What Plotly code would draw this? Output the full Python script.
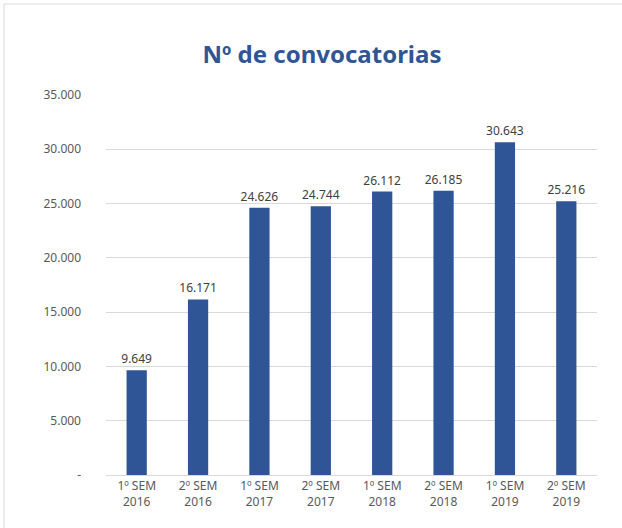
import plotly.graph_objects as go

categories = ["1º SEM<br>2016", "2º SEM<br>2016", "1º SEM<br>2017", "2º SEM<br>2017",
              "1º SEM<br>2018", "2º SEM<br>2018", "1º SEM<br>2019", "2º SEM<br>2019"]
values = [9649, 16171, 24626, 24744, 26112, 26185, 30643, 25216]
tick_vals = [0, 5000, 10000, 15000, 20000, 25000, 30000, 35000]
tick_text = ["-", "5.000", "10.000", "15.000", "20.000", "25.000", "30.000", "35.000"]
title_text = "Nº de convocatorias"

W, H = 622, 528
L, R, T, B = 106, 25, 95, 53
pw, ph = W - L - R, H - T - B
FONT = "Noto Sans"

fig = go.Figure(go.Bar(
    x=categories, y=values,
    marker=dict(color="#2F5597", line=dict(width=0)),
    texttemplate="%{y:,}", textposition="outside", constraintext="none",
    textfont=dict(color="#404040", size=12, family=FONT),
    cliponaxis=False,
))

def px_x(p):
    return (p - L) / pw

def px_y(p):
    return 1 - (p - T) / ph

fig.update_layout(
    width=W, height=H,
    margin=dict(l=L, r=R, t=T, b=B, autoexpand=False),
    paper_bgcolor="white", plot_bgcolor="white",
    separators=",.",
    bargap=0.67,
    showlegend=False,
    title=dict(text="<b>" + title_text + "</b>", x=px_x(322), xanchor="center",
               xref="paper", y=1 - 55 / H, yanchor="middle",
               font=dict(family=FONT, size=24, color="#2F5597")),
    font=dict(family=FONT, color="#595959", size=12),
    xaxis=dict(showgrid=False, showline=True, linecolor="#D9D9D9", linewidth=1,
               ticks="", automargin=False, tickfont=dict(size=12, color="#595959")),
    yaxis=dict(range=[0, 35000], tickvals=tick_vals, ticktext=tick_text,
               showgrid=True, gridcolor="#D9D9D9", gridwidth=1, automargin=False,
               zeroline=False, showline=False, ticks="", ticklabelstandoff=24,
               tickfont=dict(size=12, color="#595959")),
    shapes=[dict(type="rect", xref="paper", yref="paper",
                 x0=px_x(4), x1=px_x(630), y0=px_y(535), y1=px_y(4),
                 line=dict(color="#D9D9D9", width=1), fillcolor="rgba(0,0,0,0)",
                 layer="below")],
)

fig.write_html("out.html", config={"displayModeBar": False},
               post_script="document.body.style.margin='0';")
